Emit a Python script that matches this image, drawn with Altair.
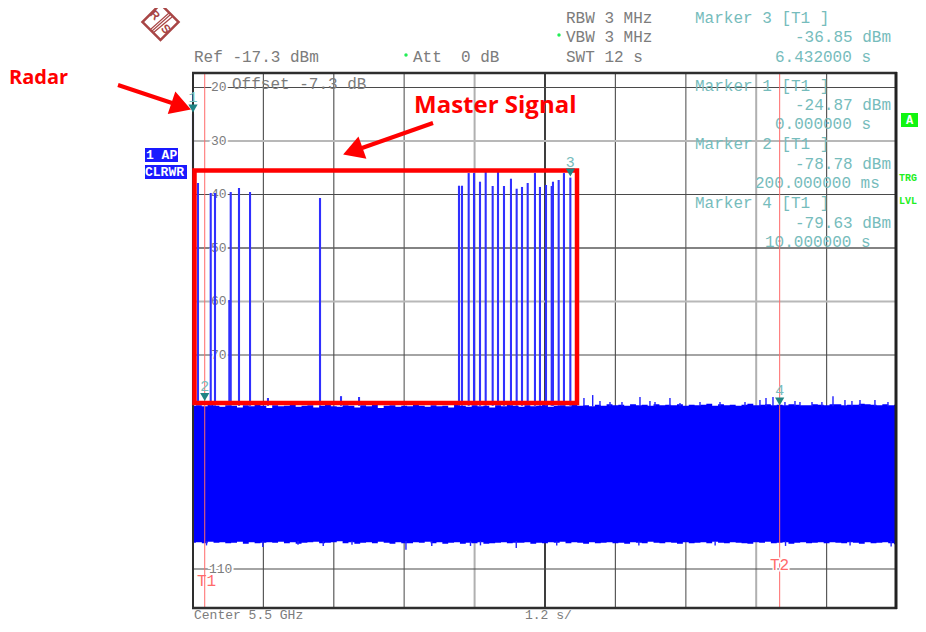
import altair as alt
import pandas as pd

# ---- data ----
grid_t_dark = [1.2, 2.4, 7.2, 10.8]
grid_t_mid = [3.6, 8.4]
grid_t_light = [4.8, 9.6]
grid_t_center = [6.0]
grid_db_dark = [-20, -40, -70, -80, -90, -100, -110]
grid_db_mid = [-50]
grid_db_light = [-30, -60]
level_values = [-20, -30, -40, -50, -60, -70]
level_texts = ["20", "30", "40", "50", "60", "70"]

pulse_t = [0.0, 0.085, 0.302, 0.375, 0.619, 0.643, 0.784, 0.972, 1.278, 2.165, 2.523, 2.83,
           4.534, 4.585, 4.699, 4.79, 4.892, 4.989, 5.108, 5.199, 5.301, 5.42, 5.517, 5.608,
           5.705, 5.829, 5.914, 6.017, 6.114, 6.136, 6.233, 6.323, 6.432]
pulse_db = [-24.87, -37.86, -39.73, -39.73, -59.73, -39.54, -38.8, -39.54, -78.05, -40.66, -77.7, -77.86,
            -38.37, -38.37, -36.0, -36.0, -37.62, -35.8, -38.42, -35.8, -38.42, -37.06, -38.93, -38.6,
            -37.86, -36.0, -38.6, -38.23, -38.42, -37.62, -37.3, -36.0, -36.85]

noise_top = [
    -79.5, -79.4, -79.6, -79.3, -79.5, -79.7, -79.4, -79.5, -79.8, -79.4,
    -79.6, -79.3, -79.5, -79.9, -79.4, -79.6, -79.5, -79.3, -79.7, -79.5,
    -79.4, -79.8, -79.5, -79.3, -79.6, -79.7, -79.4, -79.5, -79.8, -79.4,
    -79.6, -79.3, -79.9, -79.5, -79.4, -79.7, -79.5, -79.6, -79.3, -79.5,
    -79.7, -79.4, -79.6, -79.5, -79.8, -79.3, -79.5, -79.7, -79.4, -79.6,
    -79.5, -79.8, -79.4, -79.6, -79.3, -79.5, -79.7, -79.4, -79.6, -79.5,
    -79.3, -79.7, -79.5, -79.4, -79.6, -79.3, -79.5, -79.4, -79.6, -79.3,
    -79.5, -79.2, -79.4, -79.3, -79.5, -79.2, -79.4, -79.3, -79.5, -79.2,
    -79.4, -79.3, -79.4, -79.2, -79.5, -79.3, -79.4, -79.3, -79.1, -79.5,
    -79.2, -79.4, -79.3, -79.5, -79.3, -79.1, -79.4, -79.3, -79.2, -79.4,
    -79.3, -79.4, -79.2, -79.3, -79.4, -79.4, -79.2, -79.3, -79.4, -79.2,
    -79.2, -79.4, -79.3, -79.3, -79.1, -79.2, -79.3, -79.4, -79.2, -79.4,
    -79.3,
]
noise_bottom = [
    -105.1, -105.0, -105.2, -104.9, -105.1, -105.0, -105.2, -105.1, -104.9, -105.3,
    -105.0, -105.2, -105.1, -105.0, -105.1, -104.9, -105.2, -105.0, -105.3, -105.1,
    -105.0, -104.9, -105.2, -105.1, -105.0, -104.8, -105.2, -105.0, -105.3, -105.1,
    -105.0, -105.2, -104.9, -105.1, -105.3, -105.0, -105.2, -105.2, -105.0, -105.1,
    -104.9, -105.2, -105.0, -105.3, -105.1, -105.0, -105.3, -105.1, -105.2, -105.0,
    -105.3, -105.2, -105.1, -105.0, -105.2, -105.1, -105.1, -105.0, -105.3, -105.1,
    -105.2, -105.0, -105.1, -104.9, -105.2, -105.0, -105.1, -105.3, -105.0, -105.2,
    -105.1, -105.0, -105.2, -105.1, -105.3, -105.0, -105.1, -105.2, -104.9, -105.1,
    -105.2, -105.0, -105.1, -105.3, -105.0, -105.2, -105.1, -105.0, -105.2, -104.9,
    -105.1, -105.2, -105.0, -105.1, -105.2, -105.3, -105.0, -105.1, -104.9, -105.2,
    -105.1, -105.0, -105.3, -105.1, -105.0, -105.2, -105.1, -105.0, -105.2, -105.0,
    -105.1, -105.2, -105.0, -105.1, -105.3, -105.0, -105.2, -105.1, -105.0, -105.2,
    -105.4,
]
noise_t = [i / 10 for i in range(121)]

# isolated noise peaks above and below the band
peak_hi_t = [6.664, 6.813, 6.937, 7.108, 7.312, 7.619, 7.789, 7.875, 8.13, 8.301, 8.642, 8.983, 9.409,
             9.664, 9.767, 9.886, 10.09, 10.261, 10.346, 10.551, 10.72, 10.909, 11.113, 11.232, 11.369,
             11.624, 11.846]
peak_hi_db = [-78.05, -77.5, -78.6, -78.8, -78.8, -77.86, -78.6, -78.8, -78.05, -78.97, -78.8, -78.8, -78.8,
              -78.4, -78.05, -77.86, -78.8, -78.6, -78.8, -78.8, -78.8, -77.7, -78.4, -78.6, -78.4,
              -78.4, -78.8]
peak_lo_t = [0.23, 1.19, 1.79, 2.22, 2.71, 3.63, 4.07, 4.73, 4.9, 5.51, 6.2, 7.6, 8.9, 10.1, 11.2, 11.9]
peak_lo_db = [-105.6, -105.9, -105.5, -105.7, -105.5, -106.4, -105.7, -105.7, -105.6, -106.1,
              -105.6, -105.6, -105.6, -105.7, -105.6, -105.8]

marker_t = [0.0, 0.2, 6.432, 10.0]
marker_db = [-24.87, -78.78, -36.85, -79.63]
marker_id = ["1", "2", "3", "4"]
line_t = [0.2, 10.0]

GREY = "#7c7c7c"
TEAL = "#76bcbc"
RED = "#ff0000"
LRED = "#ff6a6a"
BLUE = "#0000ff"
MONO = "Liberation Mono"
NB = "\u00a0"

X = alt.X("t:Q", scale=alt.Scale(domain=[0, 12]), axis=None)
Y = alt.Y("db:Q", scale=alt.Scale(domain=[-117.3, -17.3]), axis=None)
one = pd.DataFrame({"a": [0]})


def px(x):
    return alt.value(x - 193)


def py(y):
    return alt.value(y - 73)


def vrules(ts, color, w):
    return alt.Chart(pd.DataFrame({"t": ts})).mark_rule(color=color, strokeWidth=w).encode(x=X)


def hrules(ds, color, w):
    return alt.Chart(pd.DataFrame({"db": ds})).mark_rule(color=color, strokeWidth=w).encode(y=Y)


def label(text, x, y, color=GREY, size=16, font=MONO, weight="normal", align="left", **kw):
    return alt.Chart(one).mark_text(
        font=font, fontSize=size, fontWeight=weight, align=align, baseline="middle", clip=False, **kw
    ).encode(x=px(x), y=py(y), text=alt.value(text), color=alt.value(color))


def seg(x1, y1, x2, y2, color, w):
    return alt.Chart(one).mark_rule(color=color, strokeWidth=w, clip=False).encode(
        x=px(x1), x2=px(x2), y=py(y1), y2=py(y2))


def box(x1, y1, x2, y2, color):
    return alt.Chart(one).mark_rect(color=color, clip=False).encode(
        x=px(x1), x2=px(x2), y=py(y1), y2=py(y2))


layers = []
# grid
layers += [
    vrules(grid_t_dark, "#5a5a5a", 1.2),
    vrules(grid_t_mid, "#8c8c8c", 1.6),
    vrules(grid_t_light, "#b0b0b0", 2),
    vrules(grid_t_center, "#2a2a2a", 1.8),
    hrules(grid_db_dark, "#4a4a4a", 1.1),
    hrules(grid_db_mid, "#5a5a5a", 1.6),
    hrules(grid_db_light, "#b8b8b8", 2),
]
# level labels on the trace area
lev = pd.DataFrame({"db": level_values, "txt": level_texts})
layers.append(alt.Chart(lev).mark_text(font=MONO, fontSize=13, align="left", baseline="middle",
                                       stroke="white", strokeWidth=4, dx=18).encode(
    x=alt.value(0), y=Y, text="txt:N"))
layers.append(alt.Chart(lev).mark_text(font=MONO, fontSize=13, align="left", baseline="middle",
                                       color=GREY, dx=18).encode(
    x=alt.value(0), y=Y, text="txt:N"))
layers.append(label("110", 209, 569, size=13, stroke="white", strokeWidth=4))
layers.append(label("110", 209, 569, size=13))
# text over the grid
layers.append(label("Offset -7.3 dB", 232, 84))
for txt, y in [("Marker 1 [T1 ]", 86), ("Marker 2 [T1 ]", 144), ("Marker 4 [T1 ]", 203)]:
    layers.append(label(txt, 695, y, TEAL))
for txt, x, y in [("-24.87 dBm", 795, 105), ("0.000000 s", 775, 124),
                  ("-78.78 dBm", 795, 164), ("200.000000 ms", 755, 183),
                  ("-79.63 dBm", 795, 223), ("10.000000 s", 765, 242)]:
    layers.append(label(txt, x, y, TEAL))

# noise floor and pulses
noise = pd.DataFrame({"t": noise_t, "db": noise_top, "low": noise_bottom})
layers.append(alt.Chart(noise).mark_area(color=BLUE, opacity=1, interpolate="step").encode(x=X, y=Y, y2="low:Q"))
hi = pd.DataFrame({"t": peak_hi_t, "db": peak_hi_db, "floor": [-79.6] * len(peak_hi_t)})
layers.append(alt.Chart(hi).mark_rule(color="#2020ff", strokeWidth=1.4).encode(x=X, y=Y, y2="floor:Q"))
lo = pd.DataFrame({"t": peak_lo_t, "db": peak_lo_db, "floor": [-104.8] * len(peak_lo_t)})
layers.append(alt.Chart(lo).mark_rule(color="#2020ff", strokeWidth=1.4).encode(x=X, y=Y, y2="floor:Q"))
pulses = pd.DataFrame({"t": pulse_t, "db": pulse_db, "floor": [-79.5] * len(pulse_t)})
layers.append(alt.Chart(pulses).mark_rule(color="#3030ff", strokeWidth=2.1).encode(x=X, y=Y, y2="floor:Q"))

# time lines
layers.append(vrules(line_t, LRED, 1))
layers.append(label("T1", 197, 581, LRED))
layers.append(label("T2", 770, 565, LRED, stroke="white", strokeWidth=3))
layers.append(label("T2", 770, 565, LRED))

# frame
layers += [
    seg(192, 73, 897, 73, "#2e2e2e", 2.4),
    seg(192, 608, 897, 608, "#2e2e2e", 2.4),
    seg(193, 72, 193, 609, "#2e2e2e", 2),
    seg(896, 72, 896, 609, "#222222", 3),
]

# red annotation box and arrows
layers.append(alt.Chart(one).mark_rect(fillOpacity=0, stroke=RED, strokeWidth=4.5, clip=False).encode(
    x=px(194.5), x2=px(577), y=py(170.5), y2=py(403)))
layers.append(seg(118, 85, 172, 103, RED, 4))
layers.append(seg(433, 123, 362, 148, RED, 4))
arrow = dict(shape="triangle", filled=True, color=RED, size=560, opacity=1, clip=False)
layers.append(alt.Chart(one).mark_point(angle=108.7, **arrow).encode(x=px(178), y=py(105)))
layers.append(alt.Chart(one).mark_point(angle=250.4, **arrow).encode(x=px(356), y=py(150)))
layers.append(label("Radar", 9, 78, RED, 20, "Open Sans", "bold"))
layers.append(label("Master Signal", 414, 106, RED, 24, "Open Sans", "bold"))

# markers
mk = pd.DataFrame({"t": marker_t, "db": marker_db, "id": marker_id})
layers.append(alt.Chart(mk).mark_point(shape="triangle-down", filled=True, color="#1f8484", size=85,
                                       opacity=1, yOffset=-5).encode(x=X, y=Y))
layers.append(alt.Chart(mk).mark_text(font=MONO, fontSize=15, color=TEAL, baseline="middle", dy=-16).encode(
    x=X, y=Y, text="id:N"))

# header
layers.append(label("Ref -17.3 dBm", 194, 57))
layers.append(label(f"Att{NB}{NB}0{NB}dB", 413, 57))
layers.append(label("RBW 3 MHz", 566, 18))
layers.append(label("VBW 3 MHz", 566, 37))
layers.append(label("SWT 12 s", 566, 57))
layers.append(label("Marker 3 [T1 ]", 695, 18, TEAL))
layers.append(label("-36.85 dBm", 795, 37, TEAL))
layers.append(label("6.432000 s", 775, 57, TEAL))
dot = dict(filled=True, color="#22ee55", size=12, opacity=1, clip=False)
layers.append(alt.Chart(one).mark_point(shape="circle", **dot).encode(x=px(406), y=py(55)))
layers.append(alt.Chart(one).mark_point(shape="circle", **dot).encode(x=px(559), y=py(35)))

# footer
layers.append(label("Center 5.5 GHz", 194, 615, size=13))
layers.append(label("1.2 s/", 525, 615, size=13))

# side flags
layers.append(box(145, 148, 178, 162, "#1a1aff"))
layers.append(box(145, 165, 187, 179, "#1a1aff"))
layers.append(label("1 AP", 146, 155, "white", 13, MONO, "bold"))
layers.append(label("CLRWR", 145, 172, "white", 13, MONO, "bold"))
layers.append(box(901, 113, 918, 127, "#11f511"))
layers.append(label("A", 909.5, 120, "white", 12, MONO, "bold", align="center"))
layers.append(label("TRG", 899, 178, "#22ee22", 10, MONO, "bold"))
layers.append(label("LVL", 899, 201, "#22ee22", 10, MONO, "bold"))

# logo
LOGO = "#a84545"
layers.append(alt.Chart(one).mark_point(shape="square", angle=45, size=650, color=LOGO, strokeWidth=2.5,
                                        opacity=1, clip=False).encode(x=px(160.5), y=py(22)))
layers.append(seg(151, 29, 169, 13, LOGO, 1.2))
layers.append(seg(152, 31, 170, 15, LOGO, 1.2))
layers.append(seg(153, 33, 172, 17, LOGO, 1.2))
layers.append(label("R", 155, 15, LOGO, 12, "Liberation Sans", "bold", align="center", angle=45))
layers.append(label("S", 166, 29, LOGO, 12, "Liberation Sans", "bold", align="center", angle=45))

chart = alt.layer(*layers).properties(
    width=704,
    height=535,
    padding={"left": 185, "top": 65, "right": 21, "bottom": 16},
    autosize=alt.AutoSizeParams(type="none"),
    background="white",
).configure_view(stroke=None)

chart.save("out.html", embed_options={"renderer": "svg", "actions": False})
